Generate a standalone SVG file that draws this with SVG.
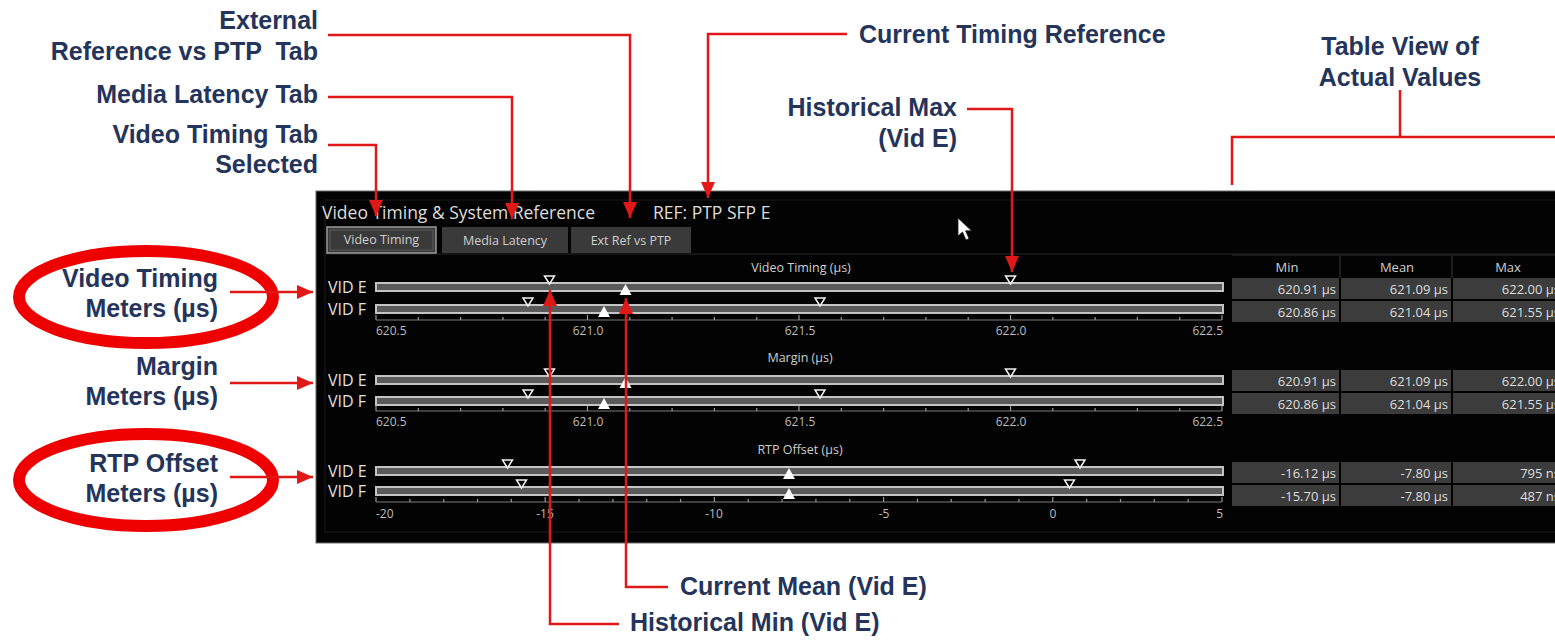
<svg xmlns="http://www.w3.org/2000/svg" xmlns:xlink="http://www.w3.org/1999/xlink" width="1555" height="644" viewBox="0 0 1555 644">
  <style>
    .callout { font-family: "Liberation Sans", Arial, sans-serif; font-weight: bold; font-size: 25px; fill: #24345a; white-space: pre; }
    .ui { font-family: "Open Sans", "Liberation Sans", sans-serif; fill: #dcdcdc; }
    .title { font-size: 17.5px; }
    .tab { font-size: 12.5px; fill: #cfcfcf; text-anchor: middle; }
    .sect { font-size: 12.5px; fill: #cfcfcf; text-anchor: middle; }
    .vid { font-size: 16px; fill: #e0e0e0; }
    .axl { font-size: 12px; fill: #bdbdbd; }
    .cell { font-size: 13px; fill: #dedede; text-anchor: end; }
    .hdr { font-size: 13px; fill: #cfcfcf; text-anchor: middle; }
    .bar { fill: #5a5a5a; stroke: #c4c4c4; stroke-width: 2; }
    .axis { stroke: #7a7a7a; stroke-width: 1; fill: none; }
    .tick { stroke: #9a9a9a; stroke-width: 1.2; fill: none; }
    .hollow { fill: #000; stroke: #f2f2f2; stroke-width: 1.5; }
    .solid { fill: #ffffff; }
    .cellbg { fill: #3c3c3c; }
    .link { fill: none; stroke: #e01818; stroke-width: 2.5; }
    .ring { fill: none; stroke: #ee0000; stroke-width: 12; }
  </style>
  <defs>
    <marker id="head" markerUnits="userSpaceOnUse" markerWidth="16" markerHeight="14" refX="16" refY="7" orient="auto">
      <path d="M0,0 L16,7 L0,14 z" fill="#e01818"/>
    </marker>
    <!-- historical max/min marker (hollow, pointing down onto the bar) -->
    <path id="tmax" class="hollow" d="M-5,-11 L5,-11 L0,-3 z"/>
    <!-- current mean marker (filled, pointing up) -->
    <path id="tmean" class="solid" d="M0,-3 L6,8 L-6,8 z"/>
  </defs>

  <rect x="0" y="0" width="1555" height="644" fill="#ffffff"/>

  <!-- instrument screen -->
  <g id="screen">
    <rect x="316" y="191" width="1250" height="352" fill="#030303" stroke="#6a6a6a" stroke-width="1"/>
    <rect x="325" y="200" width="1240" height="332" fill="none" stroke="#1c1c1c" stroke-width="1"/>
    <line x1="325" y1="254" x2="1555" y2="254" stroke="#262626" stroke-width="1"/>

    <text class="ui title" x="322" y="219">Video Timing &amp; System Reference</text>
    <text class="ui title" x="653" y="219">REF: PTP SFP E</text>

    <!-- tabs -->
    <rect x="327" y="227" width="109" height="26" fill="#3a3a3a" stroke="#9a9a9a" stroke-width="1.5"/>
    <rect x="330" y="230" width="103" height="20" fill="none" stroke="#5c5c5c" stroke-width="1"/>
    <text class="ui tab" x="381.5" y="244">Video Timing</text>
    <rect x="442" y="227" width="126" height="26" fill="#3a3a3a"/>
    <text class="ui tab" x="505" y="245">Media Latency</text>
    <rect x="571" y="227" width="120" height="26" fill="#3a3a3a"/>
    <text class="ui tab" x="631" y="245">Ext Ref vs PTP</text>

    <!-- mouse pointer -->
    <path d="M958,218 L958,236 L962.5,232 L966,240 L969,238.6 L965.6,230.8 L971.5,230.8 Z" fill="#ffffff" stroke="#222" stroke-width="0.8"/>
  </g>

  <!-- Video Timing meters -->
  <g id="video-timing-meters">
    <text class="ui sect" x="801" y="272">Video Timing (µs)</text>
    <text class="ui vid" x="328" y="293">VID E</text>
    <text class="ui vid" x="328" y="315">VID F</text>
    <rect class="bar" x="376" y="283" width="847" height="8"/>
    <rect class="bar" x="376" y="305" width="847" height="8"/>
    <line class="axis" x1="376" y1="320" x2="1222" y2="320"/>
    <path class="tick" d="M376,320v-5M418.3,320v-3M460.6,320v-3M502.9,320v-3M545.2,320v-3M587.5,320v-5M629.8,320v-3M672.1,320v-3M714.4,320v-3M756.7,320v-3M799,320v-5M841.3,320v-3M883.6,320v-3M925.9,320v-3M968.2,320v-3M1010.5,320v-5M1052.8,320v-3M1095.1,320v-3M1137.4,320v-3M1179.7,320v-3M1222,320v-5"/>
    <text class="ui axl" x="376" y="335">620.5</text>
    <text class="ui axl" x="588" y="335" text-anchor="middle">621.0</text>
    <text class="ui axl" x="800" y="335" text-anchor="middle">621.5</text>
    <text class="ui axl" x="1011" y="335" text-anchor="middle">622.0</text>
    <text class="ui axl" x="1223" y="335" text-anchor="end">622.5</text>
    <use href="#tmax" x="549.5" y="287"/>
    <use href="#tmax" x="1010.5" y="287"/>
    <use href="#tmean" x="625.5" y="287"/>
    <use href="#tmax" x="528" y="309"/>
    <use href="#tmax" x="820" y="309"/>
    <use href="#tmean" x="604" y="309"/>
  </g>

  <!-- Margin meters -->
  <g id="margin-meters">
    <text class="ui sect" x="800" y="362">Margin (µs)</text>
    <text class="ui vid" x="328" y="386">VID E</text>
    <text class="ui vid" x="328" y="407">VID F</text>
    <rect class="bar" x="376" y="376" width="847" height="8"/>
    <rect class="bar" x="376" y="397" width="847" height="8"/>
    <line class="axis" x1="376" y1="411" x2="1222" y2="411"/>
    <path class="tick" d="M376,411v-5M418.3,411v-3M460.6,411v-3M502.9,411v-3M545.2,411v-3M587.5,411v-5M629.8,411v-3M672.1,411v-3M714.4,411v-3M756.7,411v-3M799,411v-5M841.3,411v-3M883.6,411v-3M925.9,411v-3M968.2,411v-3M1010.5,411v-5M1052.8,411v-3M1095.1,411v-3M1137.4,411v-3M1179.7,411v-3M1222,411v-5"/>
    <text class="ui axl" x="376" y="426">620.5</text>
    <text class="ui axl" x="588" y="426" text-anchor="middle">621.0</text>
    <text class="ui axl" x="800" y="426" text-anchor="middle">621.5</text>
    <text class="ui axl" x="1011" y="426" text-anchor="middle">622.0</text>
    <text class="ui axl" x="1223" y="426" text-anchor="end">622.5</text>
    <use href="#tmax" x="549.5" y="380"/>
    <use href="#tmax" x="1010.5" y="380"/>
    <use href="#tmean" x="625.5" y="380"/>
    <use href="#tmax" x="528" y="401"/>
    <use href="#tmax" x="820" y="401"/>
    <use href="#tmean" x="604" y="401"/>
  </g>

  <!-- RTP Offset meters -->
  <g id="rtp-offset-meters">
    <text class="ui sect" x="800" y="454">RTP Offset (µs)</text>
    <text class="ui vid" x="328" y="477">VID E</text>
    <text class="ui vid" x="328" y="497">VID F</text>
    <rect class="bar" x="376" y="467" width="847" height="8"/>
    <rect class="bar" x="376" y="487" width="847" height="8"/>
    <line class="axis" x1="376" y1="502" x2="1222" y2="502"/>
    <path class="tick" d="M376,502v-5M409.84,502v-3M443.68,502v-3M477.52,502v-3M511.36,502v-3M545.2,502v-5M579.04,502v-3M612.88,502v-3M646.72,502v-3M680.56,502v-3M714.4,502v-5M748.24,502v-3M782.08,502v-3M815.92,502v-3M849.76,502v-3M883.6,502v-5M917.44,502v-3M951.28,502v-3M985.12,502v-3M1018.96,502v-3M1052.8,502v-5M1086.64,502v-3M1120.48,502v-3M1154.32,502v-3M1188.16,502v-3M1222,502v-5"/>
    <text class="ui axl" x="376" y="518">-20</text>
    <text class="ui axl" x="545" y="518" text-anchor="middle">-15</text>
    <text class="ui axl" x="714" y="518" text-anchor="middle">-10</text>
    <text class="ui axl" x="884" y="518" text-anchor="middle">-5</text>
    <text class="ui axl" x="1053" y="518" text-anchor="middle">0</text>
    <text class="ui axl" x="1223" y="518" text-anchor="end">5</text>
    <use href="#tmax" x="507.5" y="471"/>
    <use href="#tmax" x="1080" y="471"/>
    <use href="#tmean" x="789" y="471"/>
    <use href="#tmax" x="521.5" y="491"/>
    <use href="#tmax" x="1069.5" y="491"/>
    <use href="#tmean" x="789" y="491"/>
  </g>

  <!-- value table (the right column runs past the screen edge) -->
  <g id="value-table">
    <line x1="1232" y1="255" x2="1555" y2="255" stroke="#2e2e2e"/>
    <line x1="1340" y1="256" x2="1340" y2="278" stroke="#3a3a3a"/>
    <line x1="1452" y1="256" x2="1452" y2="278" stroke="#3a3a3a"/>
    <text class="ui hdr" x="1287" y="272">Min</text>
    <text class="ui hdr" x="1397" y="272">Mean</text>
    <text class="ui hdr" x="1508" y="272">Max</text>

    <rect class="cellbg" x="1232" y="278" width="107" height="21"/>
    <rect class="cellbg" x="1341" y="278" width="110" height="21"/>
    <rect class="cellbg" x="1453" y="278" width="110" height="21"/>
    <rect class="cellbg" x="1232" y="301" width="107" height="21"/>
    <rect class="cellbg" x="1341" y="301" width="110" height="21"/>
    <rect class="cellbg" x="1453" y="301" width="110" height="21"/>
    <text class="ui cell" x="1336" y="294">620.91 µs</text>
    <text class="ui cell" x="1448" y="294">621.09 µs</text>
    <text class="ui cell" x="1560" y="294">622.00 µs</text>
    <text class="ui cell" x="1336" y="317">620.86 µs</text>
    <text class="ui cell" x="1448" y="317">621.04 µs</text>
    <text class="ui cell" x="1560" y="317">621.55 µs</text>

    <rect class="cellbg" x="1232" y="370" width="107" height="21"/>
    <rect class="cellbg" x="1341" y="370" width="110" height="21"/>
    <rect class="cellbg" x="1453" y="370" width="110" height="21"/>
    <rect class="cellbg" x="1232" y="393" width="107" height="21"/>
    <rect class="cellbg" x="1341" y="393" width="110" height="21"/>
    <rect class="cellbg" x="1453" y="393" width="110" height="21"/>
    <text class="ui cell" x="1336" y="386">620.91 µs</text>
    <text class="ui cell" x="1448" y="386">621.09 µs</text>
    <text class="ui cell" x="1560" y="386">622.00 µs</text>
    <text class="ui cell" x="1336" y="409">620.86 µs</text>
    <text class="ui cell" x="1448" y="409">621.04 µs</text>
    <text class="ui cell" x="1560" y="409">621.55 µs</text>

    <rect class="cellbg" x="1232" y="462" width="107" height="21"/>
    <rect class="cellbg" x="1341" y="462" width="110" height="21"/>
    <rect class="cellbg" x="1453" y="462" width="110" height="21"/>
    <rect class="cellbg" x="1232" y="485" width="107" height="21"/>
    <rect class="cellbg" x="1341" y="485" width="110" height="21"/>
    <rect class="cellbg" x="1453" y="485" width="110" height="21"/>
    <text class="ui cell" x="1336" y="478">-16.12 µs</text>
    <text class="ui cell" x="1448" y="478">-7.80 µs</text>
    <text class="ui cell" x="1560" y="478">795 ns</text>
    <text class="ui cell" x="1336" y="501">-15.70 µs</text>
    <text class="ui cell" x="1448" y="501">-7.80 µs</text>
    <text class="ui cell" x="1560" y="501">487 ns</text>
  </g>

  <!-- callout labels -->
  <g id="label-ext-ref">
    <text class="callout" x="318" y="29" text-anchor="end">External</text>
    <text class="callout" x="318" y="60" text-anchor="end" xml:space="preserve">Reference vs PTP  Tab</text>
  </g>
  <g id="label-media-latency">
    <text class="callout" x="318" y="103" text-anchor="end">Media Latency Tab</text>
  </g>
  <g id="label-video-timing-tab">
    <text class="callout" x="318" y="143" text-anchor="end">Video Timing Tab</text>
    <text class="callout" x="318" y="173" text-anchor="end">Selected</text>
  </g>
  <g id="label-current-ref">
    <text class="callout" x="859" y="43">Current Timing Reference</text>
  </g>
  <g id="label-hist-max">
    <text class="callout" x="957" y="116" text-anchor="end">Historical Max</text>
    <text class="callout" x="957" y="147" text-anchor="end">(Vid E)</text>
  </g>
  <g id="label-table-view">
    <text class="callout" x="1400" y="55" text-anchor="middle">Table View of</text>
    <text class="callout" x="1400" y="86" text-anchor="middle">Actual Values</text>
  </g>
  <g id="label-vt-meters">
    <ellipse class="ring" cx="146" cy="297" rx="127" ry="46"/>
    <text class="callout" x="218" y="287" text-anchor="end">Video Timing</text>
    <text class="callout" x="218" y="317" text-anchor="end">Meters (µs)</text>
  </g>
  <g id="label-margin-meters">
    <text class="callout" x="218" y="375" text-anchor="end">Margin</text>
    <text class="callout" x="218" y="405" text-anchor="end">Meters (µs)</text>
  </g>
  <g id="label-rtp-meters">
    <ellipse class="ring" cx="146" cy="480" rx="127" ry="46"/>
    <text class="callout" x="218" y="472" text-anchor="end">RTP Offset</text>
    <text class="callout" x="218" y="502" text-anchor="end">Meters (µs)</text>
  </g>
  <g id="label-current-mean">
    <text class="callout" x="680" y="595">Current Mean (Vid E)</text>
  </g>
  <g id="label-hist-min">
    <text class="callout" x="630" y="631">Historical Min (Vid E)</text>
  </g>

  <!-- leader lines -->
  <g id="connectors">
    <path class="link" d="M328,35 H630 V218" marker-end="url(#head)"/>
    <path class="link" d="M328,97 H512 V219" marker-end="url(#head)"/>
    <path class="link" d="M328,145 H376 V216" marker-end="url(#head)"/>
    <path class="link" d="M847,34 H708 V198" marker-end="url(#head)"/>
    <path class="link" d="M967,109 H1012 V272" marker-end="url(#head)"/>
    <path class="link" d="M1400,90 V137 M1232,185 V137 H1560"/>
    <path class="link" d="M230,292 H313" marker-end="url(#head)"/>
    <path class="link" d="M230,383 H313" marker-end="url(#head)"/>
    <path class="link" d="M230,477 H313" marker-end="url(#head)"/>
    <path class="link" d="M668,587 H626 V298" marker-end="url(#head)"/>
    <path class="link" d="M619,624 H550 V290" marker-end="url(#head)"/>
  </g>
</svg>
